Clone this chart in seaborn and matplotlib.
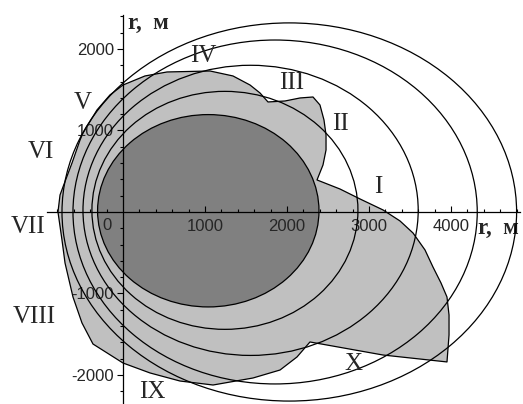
import numpy as np
import pandas as pd
import matplotlib
matplotlib.use("Agg")
import matplotlib.pyplot as plt
from matplotlib.patches import Ellipse
from matplotlib.ticker import FixedLocator
import seaborn as sns

# ---- data -------------------------------------------------------------
# light-gray zone boundary (x, y in metres)
zone_x = [0, 268, 537, 1061, 1341, 1549, 1671, 1768, 1976, 2159, 2317, 2402,
          2451, 2476, 2476, 2439, 2366, 2646, 2890, 3171, 3378, 3537, 3683,
          3780, 3878, 3951, 3976, 3976, 3951, 3171, 2280, 2122, 1915, 1585,
          1098, 695, 329, 0, -366, -500, -610, -707, -744, -793, -768, -732,
          -622, -524, -488, -317, -159, 0]
zone_y = [1558, 1669, 1718, 1730, 1669, 1558, 1460, 1350, 1362, 1399, 1411,
          1313, 1129, 945, 761, 577, 393, 282, 160, 25, -110, -258, -466,
          -675, -871, -1043, -1264, -1509, -1840, -1755, -1595, -1779, -1939,
          -2037, -2123, -2074, -1975, -1853, -1620, -1362, -1043, -626, -344,
          0, 209, 307, 601, 883, 969, 1252, 1436, 1558]

# ellipses: first one is the dark filled core
ell_cx = [1040, 1243, 1556, 1855, 2028]
ell_cy = [15, 20, 20, 0, 0]
ell_a = [1350, 1622, 2044, 2465, 2772]
ell_b = [1180, 1460, 1780, 2110, 2320]

# sector labels
sec_names = ["I", "II", "III", "IV", "V", "VI", "VII", "VIII", "IX", "X"]
sec_x = [3110, 2646, 2061, 976, -488, -1000, -1159, -1085, 354, 2805]
sec_y = [307, 1080, 1583, 1914, 1337, 736, -184, -1288, -2209, -1865]

xticks = [1000, 2000, 3000, 4000]
xtick_labels = ["1000", "2000", "3000", "4000"]
yticks = [-2000, -1000, 1000, 2000]
ytick_labels = ["-2000", "-1000", "1000", "2000"]

# ---- figure -----------------------------------------------------------
sns.set_style("white")
fig = plt.figure(figsize=(5.23, 4.04), dpi=100)
ax = fig.add_axes([0, 0, 1, 1])
ax.set_xlim(-1500, 4878)
ax.set_ylim(-2356, 2601)

LIGHT = "#c0c0c0"
DARK = "#808080"

ax.fill(zone_x, zone_y, color=LIGHT, zorder=1, lw=0)
sns.lineplot(x=zone_x, y=zone_y, sort=False, estimator=None, color="black",
             lw=0.9, ax=ax, zorder=2)

for i in range(len(ell_cx)):
    ax.add_patch(Ellipse((ell_cx[i], ell_cy[i]), 2 * ell_a[i], 2 * ell_b[i],
                         facecolor=DARK if i == 0 else "none",
                         edgecolor="black", lw=0.9, zorder=3 if i == 0 else 4))

for n, x, y in zip(sec_names, sec_x, sec_y):
    ax.text(x, y, n, ha="center", va="center", fontsize=18,
            family="Liberation Serif", zorder=6)

# axes through origin
for s in ["top", "right"]:
    ax.spines[s].set_visible(False)
ax.spines["left"].set_position(("data", 0))
ax.spines["bottom"].set_position(("data", 0))
ax.spines["left"].set_bounds(-2356, 2417)
ax.spines["bottom"].set_bounds(-927, 4841)
for s in ["left", "bottom"]:
    ax.spines[s].set_color("black")
    ax.spines[s].set_linewidth(0.9)
    ax.spines[s].set_zorder(5)

ax.xaxis.set_major_locator(FixedLocator(xticks))
ax.set_xticklabels(xtick_labels)
ax.yaxis.set_major_locator(FixedLocator(yticks))
ax.set_yticklabels(ytick_labels)
ax.xaxis.set_minor_locator(FixedLocator([v for v in range(-800, 4801, 200) if v % 1000]))
ax.yaxis.set_minor_locator(FixedLocator([v for v in range(-2200, 2401, 200) if v % 1000]))
ax.tick_params(axis="x", which="both", direction="in", bottom=True, pad=5,
               labelsize=12, color="black")
ax.tick_params(axis="y", which="both", direction="out", left=True, pad=2,
               labelsize=12, color="black")
ax.tick_params(which="major", length=4.5, width=0.8)
ax.tick_params(which="minor", length=2.5, width=0.8)
for lab in ax.get_xticklabels() + ax.get_yticklabels():
    lab.set_family("Liberation Sans")
ax.xaxis.set_zorder(3.5)
ax.yaxis.set_zorder(3.5)

ax.text(-195, -160, "0", ha="center", va="center", fontsize=12,
        family="Liberation Sans", zorder=3.5)
ax.text(60, 2310, "r,  м", ha="left", va="center", fontsize=16.5,
        family="Liberation Serif", fontweight="bold")
ax.text(4330, -200, "r,  м", ha="left", va="center", fontsize=16.5,
        family="Liberation Serif", fontweight="bold")

fig.savefig("out.png", dpi=100)
